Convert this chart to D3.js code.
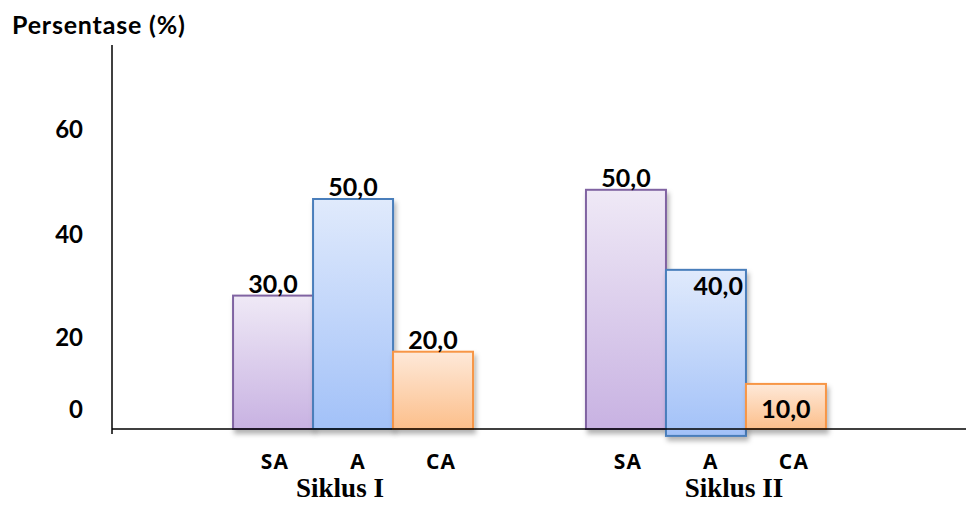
<!DOCTYPE html>
<html>
<head>
<meta charset="utf-8">
<script src="https://cdn.jsdelivr.net/npm/d3@7"></script>
<style>
  html, body { margin: 0; padding: 0; background: #fff; }
  svg { display: block; }
</style>
</head>
<body>
<svg id="chart" width="966" height="505"></svg>
<script>
// ---- data ----
const cycles = ["Siklus I", "Siklus II"];
const categories = ["SA", "A", "CA"];
// printed value labels (%)
const labelsSiklusI = [30, 50, 20];
const labelsSiklusII = [50, 40, 10];
// bar heights as drawn in the picture (in axis % units)
const barsSiklusI = [29, 50, 16.8];
const barsSiklusII = [52, 34.6, 9.8];
// bar bottoms as drawn (one bar dips below the baseline)
const floorSiklusI = [0, 0, 0];
const floorSiklusII = [0, -1.5, 0];
// label placement as in the picture
const placeSiklusI = ["above", "above", "above"];
const placeSiklusII = ["above", "insideRight", "insideMiddle"];
const yTicks = [0, 20, 40, 60];
const yTitle = "Persentase (%)";

const colors = {
  SA: { top: "#efe9f6", bottom: "#c8b2e2", stroke: "#8064a2" },
  A:  { top: "#e0eafc", bottom: "#a2c1f8", stroke: "#4a7ebb" },
  CA: { top: "#fee9d9", bottom: "#fcbf8b", stroke: "#f79646" }
};

const rows = [];
[[labelsSiklusI, barsSiklusI, floorSiklusI, placeSiklusI],
 [labelsSiklusII, barsSiklusII, floorSiklusII, placeSiklusII]].forEach((arr, gi) => {
  categories.forEach((c, ci) => {
    rows.push({ cycle: cycles[gi], cat: c, label: arr[0][ci], value: arr[1][ci], floor: arr[2][ci], place: arr[3][ci] });
  });
});

// ---- scales ----
const svg = d3.select("#chart");
const x0 = d3.scaleBand().domain(cycles).range([112, 947]).paddingInner(0.32).paddingOuter(0.343);
const x1 = d3.scaleBand().domain(categories).range([0, x0.bandwidth()]).padding(0);
const xLab = d3.scalePoint().domain(categories).range([42, 208]);
const xTitle = d3.scalePoint().domain(cycles).range([340, 734]);
const y = d3.scaleLinear().domain([0, 60]).range([429, 153]);
const yTickPos = d3.scaleLinear().domain(yTicks).range([418, 346, 243, 138]);

// ---- defs ----
const defs = svg.append("defs");
categories.forEach(c => {
  const g = defs.append("linearGradient").attr("id", "grad-" + c)
    .attr("x1", 0).attr("y1", 0).attr("x2", 0).attr("y2", 1);
  g.append("stop").attr("offset", "0%").attr("stop-color", colors[c].top);
  g.append("stop").attr("offset", "100%").attr("stop-color", colors[c].bottom);
});
const f = defs.append("filter").attr("id", "shadow")
  .attr("x", "-20%").attr("y", "-20%").attr("width", "150%").attr("height", "150%");
f.append("feDropShadow").attr("dx", 2).attr("dy", 4).attr("stdDeviation", 2.5)
  .attr("flood-color", "#000").attr("flood-opacity", 0.3);

// ---- bars ----
svg.append("g").selectAll("rect").data(rows).join("rect")
  .attr("x", d => x0(d.cycle) + x1(d.cat))
  .attr("y", d => y(d.value))
  .attr("width", x1.bandwidth())
  .attr("height", d => y(d.floor) - y(d.value))
  .attr("fill", d => "url(#grad-" + d.cat + ")")
  .attr("stroke", d => colors[d.cat].stroke)
  .attr("stroke-width", 2)
  .attr("filter", "url(#shadow)");

// ---- axes lines ----
svg.append("line").attr("x1", 112).attr("x2", 112).attr("y1", 45).attr("y2", 434)
  .attr("stroke", "#000").attr("stroke-width", 1.5);
svg.append("line").attr("x1", 112).attr("x2", 966).attr("y1", y(0)).attr("y2", y(0))
  .attr("stroke", "#000").attr("stroke-width", 1.5);

// ---- value labels ----
const fmt = v => d3.format(".1f")(v).replace(".", ",");
svg.append("g").selectAll("text").data(rows).join("text")
  .attr("font-family", "Lato, 'Open Sans', sans-serif")
  .attr("font-weight", 700)
  .attr("font-size", 25)
  .attr("fill", "#000")
  .attr("text-anchor", d => d.place === "insideRight" ? "end" : "middle")
  .attr("x", d => {
    const bx = x0(d.cycle) + x1(d.cat);
    return d.place === "insideRight" ? bx + x1.bandwidth() - 3 : bx + x1.bandwidth() / 2;
  })
  .attr("y", d => {
    if (d.place === "insideRight") return y(d.value) + 25;
    if (d.place === "insideMiddle") return (y(d.value) + y(d.floor)) / 2 + 12;
    return y(d.value) - 3;
  })
  .text(d => fmt(d.label));

// ---- y tick labels ----
svg.append("g").selectAll("text").data(yTicks).join("text")
  .attr("x", 83)
  .attr("y", d => yTickPos(d))
  .attr("text-anchor", "end")
  .attr("font-family", "Lato, 'Open Sans', sans-serif")
  .attr("font-weight", 700)
  .attr("font-size", 24)
  .text(d => d);

// ---- y title ----
svg.append("text").attr("x", 12).attr("y", 34)
  .attr("font-family", "Lato, 'Open Sans', sans-serif")
  .attr("font-weight", 700)
  .attr("font-size", 25)
  .attr("letter-spacing", 0.8)
  .text(yTitle);

// ---- category labels ----
const catG = svg.append("g");
cycles.forEach(cy => {
  catG.selectAll(null).data(categories).join("text")
    .attr("x", d => x0(cy) + xLab(d))
    .attr("y", 469)
    .attr("text-anchor", "middle")
    .attr("font-family", "'Open Sans', Lato, sans-serif")
    .attr("font-weight", 700)
    .attr("font-size", 21)
    .attr("letter-spacing", 1.2)
    .text(d => d);
});

// ---- cycle labels ----
svg.append("g").selectAll("text").data(cycles).join("text")
  .attr("x", d => xTitle(d))
  .attr("y", 497)
  .attr("text-anchor", "middle")
  .attr("font-family", "'Liberation Serif', 'Times New Roman', serif")
  .attr("font-weight", 700)
  .attr("font-size", 27)
  .text(d => d);
</script>
</body>
</html>
